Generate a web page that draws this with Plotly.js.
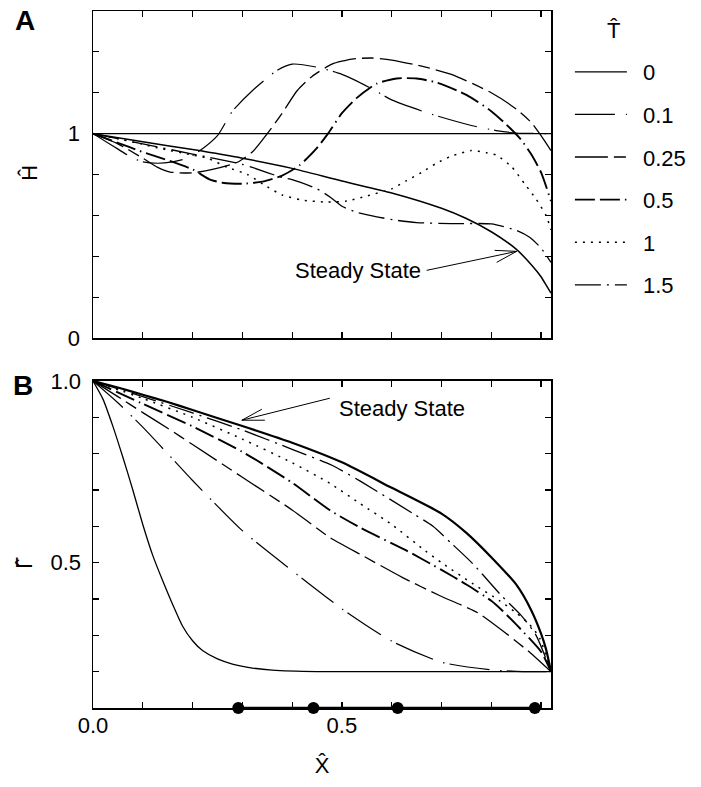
<!DOCTYPE html>
<html><head><meta charset="utf-8">
<script src="https://cdn.plot.ly/plotly-3.0.1.min.js"></script>
<style>html,body{margin:0;padding:0;background:#fff}#chart{width:701px;height:787px}</style>
</head><body><div id="chart"></div>
<script>
// ---- legend / series labels ----
const seriesLabels = ['0', '0.1', '0.25', '0.5', '1', '1.5'];
const seriesDash = ['solid', '40px,11px,1.5px,5px', '33px,6px,12px,6px', '20px,5px,20px,5px,1.5px,5px', '2px,6px', '26px,6px,2px,6px'];
const seriesWidth = [1.3, 1.2, 1.3, 1.9, 1.5, 1.3];

// ---- Panel A : H-hat vs X-hat ----
const aX_T0 = [0, 0.92];
const aH_T0 = [1, 1];
const aX_T01 = [0, 0.04, 0.078, 0.1, 0.13, 0.16, 0.19, 0.215, 0.25, 0.28, 0.32, 0.37, 0.4, 0.45, 0.5, 0.56, 0.6, 0.68, 0.76, 0.81, 0.85, 0.92];
const aH_T01 = [1, 0.94, 0.883, 0.862, 0.855, 0.862, 0.88, 0.917, 0.99, 1.11, 1.21, 1.31, 1.34, 1.325, 1.29, 1.22, 1.165, 1.095, 1.04, 1.015, 1.003, 1.0];
const aX_T025 = [0, 0.05, 0.1, 0.13, 0.155, 0.2, 0.24, 0.29, 0.32, 0.35, 0.38, 0.41, 0.44, 0.48, 0.52, 0.56, 0.6, 0.66, 0.72, 0.8, 0.85, 0.88, 0.9, 0.92];
const aH_T025 = [1, 0.95, 0.88, 0.835, 0.812, 0.808, 0.825, 0.86, 0.91, 1.0, 1.1, 1.21, 1.28, 1.34, 1.365, 1.37, 1.36, 1.33, 1.29, 1.2, 1.12, 1.055, 0.99, 0.917];
const aX_T05 = [0, 0.05, 0.1, 0.15, 0.2, 0.235, 0.26, 0.3, 0.34, 0.38, 0.415, 0.45, 0.472, 0.5, 0.53, 0.57, 0.61, 0.65, 0.69, 0.75, 0.8, 0.83, 0.86, 0.88, 0.9, 0.92];
const aH_T05 = [1, 0.955, 0.91, 0.87, 0.825, 0.775, 0.76, 0.755, 0.765, 0.795, 0.845, 0.93, 1.0, 1.1, 1.175, 1.245, 1.27, 1.27, 1.25, 1.19, 1.11, 1.045, 0.97, 0.9, 0.81, 0.67];
const aX_T1 = [0, 0.05, 0.1, 0.13, 0.2, 0.23, 0.27, 0.31, 0.35, 0.38, 0.42, 0.47, 0.51, 0.55, 0.6, 0.63, 0.66, 0.69, 0.72, 0.76, 0.79, 0.81, 0.84, 0.87, 0.89, 0.91, 0.92];
const aH_T1 = [1, 0.975, 0.948, 0.93, 0.895, 0.88, 0.835, 0.8, 0.74, 0.70, 0.675, 0.665, 0.67, 0.695, 0.73, 0.77, 0.81, 0.855, 0.89, 0.917, 0.907, 0.895, 0.84, 0.745, 0.68, 0.6, 0.53];
const aX_T15 = [0, 0.1, 0.2, 0.3, 0.32, 0.38, 0.4, 0.45, 0.476, 0.5, 0.53, 0.57, 0.61, 0.65, 0.72, 0.8, 0.85, 0.877, 0.9, 0.92];
const aH_T15 = [1, 0.95, 0.9, 0.85, 0.835, 0.785, 0.775, 0.73, 0.69, 0.645, 0.615, 0.593, 0.576, 0.565, 0.56, 0.558, 0.527, 0.493, 0.44, 0.37];
const aX_SS = [0, 0.1, 0.2, 0.3, 0.4, 0.5, 0.6, 0.7, 0.75, 0.8, 0.85, 0.88, 0.9, 0.91, 0.92];
const aH_SS = [1, 0.96, 0.922, 0.88, 0.83, 0.768, 0.71, 0.635, 0.585, 0.52, 0.435, 0.36, 0.3, 0.26, 0.22];

// ---- Panel B : Gamma-hat vs X-hat ----
const bX_T0 = [0, 0.02, 0.04, 0.06, 0.08, 0.1, 0.12, 0.14, 0.16, 0.18, 0.2, 0.22, 0.25, 0.28, 0.32, 0.36, 0.45, 0.92];
const bG_T0 = [1.0, 0.95, 0.875, 0.79, 0.70, 0.605, 0.52, 0.45, 0.385, 0.325, 0.285, 0.258, 0.235, 0.221, 0.21, 0.204, 0.2, 0.2];
const bX_T01 = [0, 0.05, 0.1, 0.15, 0.2, 0.3, 0.4, 0.5, 0.6, 0.7, 0.8, 0.85, 0.92];
const bG_T01 = [1, 0.94, 0.873, 0.8, 0.726, 0.588, 0.478, 0.373, 0.284, 0.226, 0.205, 0.201, 0.2];
const bX_T025 = [0, 0.05, 0.1, 0.15, 0.2, 0.3, 0.4, 0.476, 0.542, 0.622, 0.697, 0.773, 0.831, 0.88, 0.92];
const bG_T025 = [1, 0.957, 0.913, 0.87, 0.825, 0.735, 0.645, 0.569, 0.519, 0.459, 0.409, 0.362, 0.304, 0.25, 0.2];
const bX_T05 = [0, 0.1, 0.2, 0.3, 0.4, 0.476, 0.536, 0.63, 0.7, 0.75, 0.8, 0.823, 0.85, 0.9, 0.92];
const bG_T05 = [1, 0.937, 0.875, 0.805, 0.72, 0.644, 0.597, 0.533, 0.48, 0.44, 0.395, 0.367, 0.33, 0.255, 0.2];
const bX_T1 = [0, 0.1, 0.2, 0.3, 0.4, 0.476, 0.536, 0.6, 0.667, 0.703, 0.763, 0.817, 0.85, 0.877, 0.897, 0.92];
const bG_T1 = [1, 0.952, 0.9, 0.84, 0.775, 0.718, 0.663, 0.605, 0.533, 0.497, 0.442, 0.395, 0.362, 0.33, 0.293, 0.2];
const bX_T15 = [0, 0.1, 0.2, 0.3, 0.4, 0.48, 0.536, 0.643, 0.683, 0.72, 0.763, 0.82, 0.86, 0.89, 0.92];
const bG_T15 = [1, 0.957, 0.912, 0.865, 0.812, 0.768, 0.725, 0.635, 0.6, 0.553, 0.497, 0.41, 0.355, 0.30, 0.2];
const bX_SS = [0, 0.05, 0.1, 0.15, 0.2, 0.3, 0.4, 0.5, 0.6, 0.7, 0.75, 0.8, 0.85, 0.88, 0.9, 0.91, 0.92];
const bG_SS = [1, 0.982, 0.962, 0.942, 0.92, 0.876, 0.83, 0.776, 0.706, 0.635, 0.582, 0.515, 0.44, 0.37, 0.305, 0.262, 0.2];

// marker positions on the X axis of panel B
const dotX = [0.2918, 0.4428, 0.612, 0.8876];
const dotY = [0.1, 0.1, 0.1, 0.1];

// ---- tick labels ----
const xTickVals = [0, 0.1, 0.2, 0.3, 0.4, 0.5, 0.6, 0.7, 0.8, 0.9];
const xTickTextB = ['0.0', '', '', '', '', '0.5', '', '', '', ''];
const yTickValsA = [0, 0.2, 0.4, 0.6, 0.8, 1.0, 1.2, 1.4, 1.6];
const yTickTextA = ['0', '', '', '', '', '1', '', '', ''];
const yTickValsB = [0.1, 0.2, 0.3, 0.4, 0.5, 0.6, 0.7, 0.8, 0.9, 1.0];
const yTickTextB = ['', '', '', '', '0.5', '', '', '', '', '1.0'];

const FONT = 'Liberation Sans, Arial, Helvetica, sans-serif';
const seriesA = [[aX_T0, aH_T0], [aX_T01, aH_T01], [aX_T025, aH_T025], [aX_T05, aH_T05], [aX_T1, aH_T1], [aX_T15, aH_T15]];
const seriesB = [[bX_T0, bG_T0], [bX_T01, bG_T01], [bX_T025, bG_T025], [bX_T05, bG_T05], [bX_T1, bG_T1], [bX_T15, bG_T15]];

const traces = [];
seriesA.forEach((s, i) => {
  traces.push({x: s[0], y: s[1], xaxis: 'x', yaxis: 'y', mode: 'lines', name: '\u2002' + seriesLabels[i],
    legendgroup: 'g' + i, showlegend: true, hoverinfo: 'skip',
    line: {color: 'black', width: seriesWidth[i], dash: seriesDash[i], shape: i === 0 ? 'linear' : 'spline', smoothing: 0.6}});
});
traces.push({x: aX_SS, y: aH_SS, xaxis: 'x', yaxis: 'y', mode: 'lines', name: 'Steady State', showlegend: false,
  line: {color: 'black', width: 1.5, shape: 'spline', smoothing: 0.6}});
seriesB.forEach((s, i) => {
  traces.push({x: s[0], y: s[1], xaxis: 'x2', yaxis: 'y2', mode: 'lines', name: seriesLabels[i],
    legendgroup: 'g' + i, showlegend: false, hoverinfo: 'skip',
    line: {color: 'black', width: seriesWidth[i], dash: seriesDash[i], shape: 'spline', smoothing: 0.6}});
});
traces.push({x: bX_SS, y: bG_SS, xaxis: 'x2', yaxis: 'y2', mode: 'lines', name: 'Steady State', showlegend: false,
  line: {color: 'black', width: 2.2, shape: 'spline', smoothing: 0.6}});
traces.push({x: dotX, y: dotY, xaxis: 'x2', yaxis: 'y2', mode: 'lines+markers', showlegend: false, cliponaxis: false,
  marker: {color: 'black', size: 12}, line: {color: 'black', width: 2.6}});

const axCommon = {showgrid: false, zeroline: false, showline: true, linecolor: 'black', linewidth: 1.5,
  mirror: 'ticks', ticks: 'inside', ticklen: 6, tickwidth: 1.2, tickcolor: 'black',
  tickfont: {family: FONT, size: 22, color: 'black'}};

const layout = {
  width: 701, height: 787,
  margin: {l: 93, r: 149, t: 11, b: 79},
  paper_bgcolor: 'white', plot_bgcolor: 'white',
  font: {family: FONT, size: 22, color: 'black'},
  xaxis: Object.assign({}, axCommon, {domain: [0, 1], range: [0, 0.92], anchor: 'y', tickmode: 'array', tickvals: xTickVals, showticklabels: false}),
  yaxis: Object.assign({}, axCommon, {domain: [0.5308, 1], range: [0, 1.6], anchor: 'x', tickmode: 'array', tickvals: yTickValsA, ticktext: yTickTextA, ticklabelstandoff: 7}),
  xaxis2: Object.assign({}, axCommon, {domain: [0, 1], range: [0, 0.92], anchor: 'y2', tickmode: 'array', tickvals: xTickVals, ticktext: xTickTextB, ticklabelstandoff: -3,
    title: {text: 'X\u0302', font: {family: FONT, size: 22, color: 'black'}, standoff: 20}}),
  yaxis2: Object.assign({}, axCommon, {domain: [0, 0.4692], range: [0.1, 1.0], anchor: 'x2', tickmode: 'array', tickvals: yTickValsB, ticktext: yTickTextB, ticklabelstandoff: 6}),
  showlegend: true,
  legend: {x: 1.039, xanchor: 'left', y: 0.9426, yanchor: 'top', bgcolor: 'rgba(0,0,0,0)', borderwidth: 0,
    font: {family: FONT, size: 22, color: 'black'}, itemwidth: 52, tracegroupgap: 11, traceorder: 'grouped'},
  annotations: [
    {text: 'T\u0302', xref: 'paper', yref: 'paper', x: 1.1373, y: 0.9727, xanchor: 'center', yanchor: 'middle', showarrow: false, font: {family: FONT, size: 22}},
    {text: '<b>A</b>', xref: 'paper', yref: 'paper', x: -0.148, y: 0.9857, xanchor: 'center', yanchor: 'middle', showarrow: false, font: {family: FONT, size: 28}},
    {text: '<b>B</b>', xref: 'paper', yref: 'paper', x: -0.1525, y: 0.462, xanchor: 'center', yanchor: 'middle', showarrow: false, font: {family: FONT, size: 28}},
    {text: 'H\u0302', xref: 'paper', yref: 'y', x: -0.139, y: 0.81, xanchor: 'center', yanchor: 'middle', textangle: -90, showarrow: false, font: {family: FONT, size: 22}},
    {text: '\u0393\u0302', xref: 'paper', yref: 'y2', x: -0.150, y: 0.5, xanchor: 'center', yanchor: 'middle', textangle: -90, showarrow: false, font: {family: 'DejaVu Sans, Liberation Sans, sans-serif', size: 21}},
    {text: 'Steady State', xref: 'x', yref: 'y', x: 0.532, y: 0.332, xanchor: 'center', yanchor: 'middle', showarrow: false, font: {family: FONT, size: 22}},
    {text: 'Steady State', xref: 'x2', yref: 'y2', x: 0.62, y: 0.925, xanchor: 'center', yanchor: 'middle', showarrow: false, font: {family: FONT, size: 22}}
  ],
  shapes: [
    {type: 'path', xref: 'x', yref: 'y', xsizemode: 'pixel', ysizemode: 'pixel', xanchor: 0.851, yanchor: 0.424,
      path: 'M-90,-19L0,0M-22,1L0,0L-20,-11', line: {color: 'black', width: 1}},
    {type: 'path', xref: 'x2', yref: 'y2', xsizemode: 'pixel', ysizemode: 'pixel', xanchor: 0.299, yanchor: 0.892,
      path: 'M88,22L0,0M20,11L0,0L23,0', line: {color: 'black', width: 1}}
  ]
};

Plotly.newPlot('chart', traces, layout, {displayModeBar: false, staticPlot: true});
</script></body></html>
